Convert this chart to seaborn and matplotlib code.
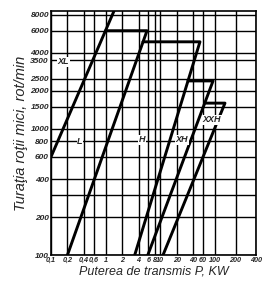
import numpy as np
import pandas as pd
import seaborn as sns
import matplotlib
matplotlib.use("Agg")
import matplotlib.pyplot as plt

# ticks of the nomogram
x_ticks = [0.1, 0.2, 0.4, 0.6, 1, 2, 4, 6, 8, 10, 20, 40, 60, 100, 200, 400]
x_labels = ["0,1", "0,2", "0,4", "0,6", "1", "2", "4", "6", "8", "10", "20", "40", "60", "100", "200", "400"]
y_ticks = [100, 200, 400, 600, 800, 1000, 1500, 2000, 2500, 3500, 4000, 6000, 8000]
y_extra_grid = [300]

# XL / L boundary (kW, rot/min)
xl_kw = [0.1, 1.42]
xl_rpm = [600, 8600]

# each belt type: top horizontal (max speed) then diagonal down to 100 rot/min
belt = ["L", "H", "XH", "XXH"]
top_rpm = [6000, 4900, 2400, 1600]
top_left_kw = [0.99, 4.8, 32, 65]
top_right_kw = [5.7, 53, 92, 140]
bottom_kw = [0.2, 3.4, 5.9, 11.2]

# labels of the zones
lab_txt = ["XL", "L", "H", "XH", "XXH"]
lab_kw = [0.17, 0.34, 4.6, 25, 88]
lab_rpm = [3400, 790, 820, 820, 1180]


# x axis of the original is log, stretched above 100 kW
def fwd(x):
    lx = np.log10(np.clip(np.asarray(x, float), 1e-9, None))
    return np.where(lx <= 2, lx, 2 + (lx - 2) * 1.245)


def inv(v):
    v = np.asarray(v, float)
    return np.where(v <= 2, 10 ** v, 10 ** (2 + (v - 2) / 1.245))


sns.set_theme(style="white")
plt.rcParams['font.family'] = ['Liberation Sans', 'DejaVu Sans']

fig = plt.figure(figsize=(2.79, 2.90), dpi=100)
ax = fig.add_axes([51 / 279, 35 / 290, 205 / 279, 244 / 290])
ax.set_xscale('function', functions=(fwd, inv))
ax.set_yscale('log')
ax.set_xlim(0.1, 400)
ax.set_ylim(100, 8600)

ax.set_xticks(x_ticks)
ax.set_xticklabels(x_labels)
ax.set_yticks(y_ticks)
ax.set_yticklabels([str(v) for v in y_ticks])
ax.set_yticks(y_extra_grid, minor=True)
ax.set_yticklabels([], minor=True)
ax.set_xticks([], minor=True)
ax.tick_params(axis='both', which='both', length=0, pad=1.5)
for t in ax.get_xticklabels():
    t.set_fontsize(5.2)
    t.set_fontstyle('italic')
    t.set_fontweight('bold')
for t in ax.get_yticklabels():
    t.set_fontsize(6)
    t.set_fontstyle('italic')
    t.set_fontweight('bold')

ax.grid(True, which='both', color='black', linewidth=1.0)
for s in ax.spines.values():
    s.set_color('black')
    s.set_linewidth(1.2)

sns.lineplot(x=xl_kw, y=xl_rpm, sort=False, estimator=None, color='black',
             linewidth=2.1, ax=ax)
for i in range(len(belt)):
    xs = [top_left_kw[i], top_right_kw[i], bottom_kw[i]]
    ys = [top_rpm[i], top_rpm[i], 100]
    sns.lineplot(x=xs, y=ys, sort=False, estimator=None, color='black',
                 linewidth=2.1, ax=ax)

for t, x, y in zip(lab_txt, lab_kw, lab_rpm):
    ax.text(x, y, t, fontsize=6.5, fontstyle='italic', fontweight='bold',
            ha='center', va='center',
            bbox=dict(facecolor='white', edgecolor='none', pad=0.3))

ax.set_xlabel("Puterea de transmis P, KW", fontsize=9, fontstyle='italic', labelpad=1)
ax.set_ylabel("Turaţia roţii mici, rot/min", fontsize=10.5, fontstyle='italic', labelpad=2)

fig.savefig("out.png", dpi=100)
